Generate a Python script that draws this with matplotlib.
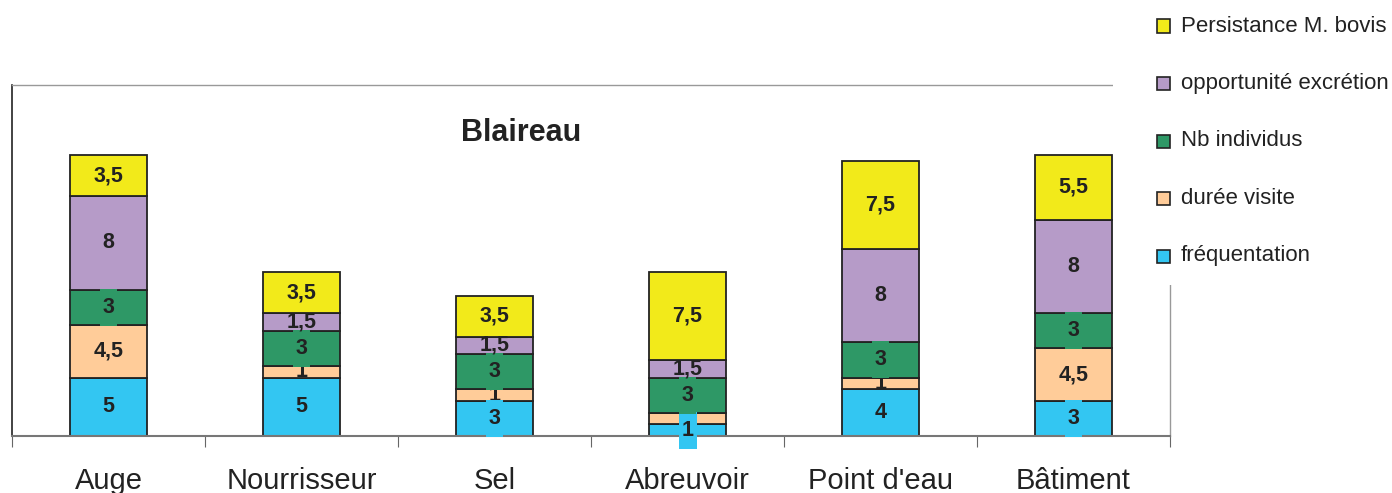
import numpy as np
import matplotlib.pyplot as plt
from matplotlib.path import Path
from matplotlib.patches import Rectangle

plt.rcParams['font.family'] = ['Liberation Sans', 'DejaVu Sans']

# Sites visités par le blaireau
sites = ['Auge', 'Nourrisseur', 'Sel', 'Abreuvoir', "Point d'eau", 'Bâtiment']

# Notes par critère (du bas vers le haut de la pile)
frequentation = [5, 5, 3, 1, 4, 3]
duree_visite = [4.5, 1, 1, 1, 1, 4.5]
nb_individus = [3, 3, 3, 3, 3, 3]
opportunite = [8, 1.5, 1.5, 1.5, 8, 8]
persistance = [3.5, 3.5, 3.5, 7.5, 7.5, 5.5]

series = [
    ('fréquentation', frequentation, '#33C6F2'),
    ('durée visite', duree_visite, '#FFCC99'),
    ('Nb individus', nb_individus, '#2E9866'),
    ('opportunité excrétion', opportunite, '#B69BC8'),
    ('Persistance M. bovis', persistance, '#F2EA1A'),
]

W, H = 1392, 493


def tall_box(x0, y0, width, height, mutation_size):
    # boite d'étiquette étroite, hauteur fixe de 37 px
    px = 3
    py = max((37 - height) / 2, 0)
    x0, y0 = x0 - px, y0 - py
    x1, y1 = x0 + width + 2 * px, y0 + height + 2 * py
    return Path([(x0, y0), (x1, y0), (x1, y1), (x0, y1), (x0, y0)], closed=True)


def fmt(v):
    if float(v).is_integer():
        return str(int(v))
    return str(v).replace('.', ',')


fig = plt.figure(figsize=(W / 100, H / 100), dpi=100)
ax = fig.add_axes([12 / W, 57 / H, 1158 / W, 351 / H])

# ordre d'empilement des étiquettes, et séries avec fond coloré
label_z = [5, 4, 6, 7, 8]
with_box = [True, False, True, False, False]

x = np.arange(len(sites))
bottom = np.zeros(len(sites))
for k, (name, vals, col) in enumerate(series):
    vals = np.array(vals, dtype=float)
    ax.bar(x, vals, 0.404, bottom=bottom, color=col, edgecolor='#222222',
           linewidth=1.3, zorder=2)
    box = dict(boxstyle=tall_box, fc=col, ec='none') if with_box[k] else None
    for xi, b, v in zip(x, bottom, vals):
        ax.text(xi, b + v / 2, fmt(v), ha='center', va='center', fontsize=15.5,
                fontweight='bold', color='#222222', zorder=label_z[k], bbox=box)
    bottom += vals

ax.set_xlim(-0.5, len(sites) - 0.5)
ax.set_ylim(0, 30)
ax.set_yticks([])

ax.set_xticks(np.arange(len(sites) + 1) - 0.5)
ax.tick_params(axis='x', which='major', length=8, color='#666666',
               labelbottom=False)
ax.set_xticks(x, minor=True)
ax.set_xticklabels(sites, minor=True, fontsize=21, color='#222222')
ax.tick_params(axis='x', which='minor', length=0, pad=22)

ax.spines['left'].set_color('#222222')
ax.spines['left'].set_linewidth(1.2)
ax.spines['bottom'].set_color('#777777')
ax.spines['bottom'].set_linewidth(1.5)
for s in ('top', 'right'):
    ax.spines[s].set_color('#999999')
    ax.spines[s].set_linewidth(1.0)

fig.text(521 / W, 1 - 133 / H, 'Blaireau', ha='center', va='center',
         fontsize=22, fontweight='bold', color='#222222')

# Légende à droite, sur fond blanc qui masque le cadre
fig.patches.append(Rectangle((1113 / W, 1 - 285 / H), 1 - 1113 / W, 285 / H,
                             transform=fig.transFigure, fc='white', ec='none',
                             zorder=3))
pitch = 57.5
for i, (name, vals, col) in enumerate(reversed(series)):
    yc = 26 + i * pitch
    fig.patches.append(Rectangle((1157 / W, 1 - (yc + 6.5) / H), 13 / W, 13 / H,
                                 transform=fig.transFigure, fc=col,
                                 ec='#222222', lw=1.2, zorder=4))
    fig.text(1181 / W, 1 - yc / H, name, ha='left', va='center',
             fontsize=16, color='#222222', zorder=4)

fig.savefig('out.png', dpi=100)
